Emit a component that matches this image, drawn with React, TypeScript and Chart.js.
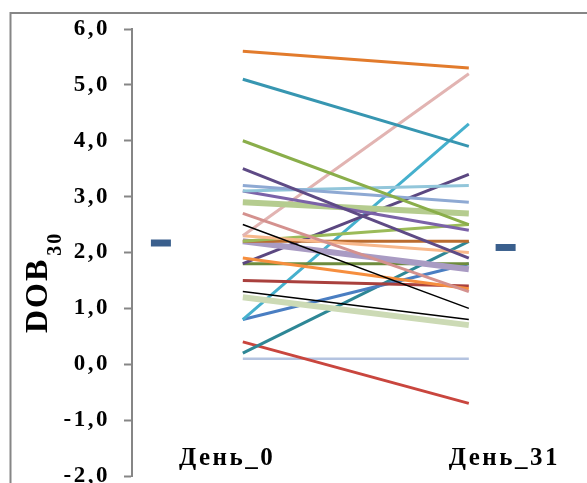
import React, { useEffect, useRef } from 'react';
import { Chart, registerables } from 'chart.js';

Chart.register(...registerables);

// ---- data ----
const categories = ['День_0', 'День_31'];
const day0Values = [5.6, 5.1, 4.0, 3.5, 3.2, 3.1, 3.1, 2.9, 2.7, 2.5, 2.3, 2.3, 2.2, 2.2, 2.2, 1.9, 1.8, 1.8, 1.5, 1.3, 1.2, 0.8, 0.8, 0.2, 0.4, 0.1];
const day31Values = [5.3, 3.9, 2.5, 1.9, 2.9, 3.2, 2.4, 2.7, 1.3, 1.0, 5.2, 2.0, 2.5, 2.2, 1.7, 1.35, 3.4, 1.8, 1.4, 0.8, 0.7, 4.3, 1.8, 2.2, -0.7, 0.1];
const meanValues = [2.17, 2.09];
const yTickValues = [-2, -1, 0, 1, 2, 3, 4, 5, 6];

// ---- styles / positions (not data) ----
const lineColors = [
  '#E27B2C', '#3796B1', '#8AAE4A', '#5E4A85', '#8EA9D3', '#92C6DA', '#7B62A8', '#B5CC8F',
  '#D4918E', '#000000', '#E2B4B2', '#F8B88B', '#9BBB59', '#BA6B2E', '#A99BC3', '#F68E3E',
  '#5B4780', '#6E8B3D', '#A9403D', '#000000', '#CCDAB5', '#45B0CD', '#4A7EC2', '#2E8796',
  '#C9463E', '#B4C3E0',
];
const lineWidths = [3, 3, 3, 3, 3, 3, 3, 6, 3, 1.5, 3, 3, 3, 3, 6, 3, 3, 3, 3, 1.5, 6, 3, 3, 3, 3, 2.5];
const X_MIN = 0;
const X_MAX = 10;
const lineX = [2.53, 7.69];
const meanX = [0.66, 8.53];
const labelX = [2.17, 8.5];

const FONT = '"Liberation Serif", "Times New Roman", serif';
const SPACING = '2.5px';

const framePlugin = {
  id: 'frameAndTitle',
  beforeDraw(chart: any) {
    const ctx = chart.ctx;
    ctx.letterSpacing = SPACING;
    ctx.save();
    ctx.strokeStyle = '#868686';
    ctx.lineWidth = 2;
    ctx.beginPath();
    ctx.moveTo(10.5, chart.height);
    ctx.lineTo(10.5, 13);
    ctx.lineTo(chart.width, 13);
    ctx.stroke();
    ctx.restore();
  },
  afterDraw(chart: any) {
    const ctx = chart.ctx;
    ctx.save();
    ctx.letterSpacing = '2px';
    ctx.translate(47, 333);
    ctx.rotate(-Math.PI / 2);
    ctx.fillStyle = '#000';
    ctx.textBaseline = 'alphabetic';
    ctx.textAlign = 'left';
    ctx.font = `bold 32px ${FONT}`;
    ctx.fillText('DOB', 0, 0);
    const w = ctx.measureText('DOB').width;
    ctx.font = `bold 20px ${FONT}`;
    ctx.fillText('30', w + 2, 14);
    ctx.restore();
  },
};

export default function App() {
  const canvasRef = useRef<HTMLCanvasElement | null>(null);

  useEffect(() => {
    if (!canvasRef.current) return;
    const lineSets = day0Values.map((v0, i) => ({
      type: 'scatter' as const,
      data: [
        { x: lineX[0], y: v0 },
        { x: lineX[1], y: day31Values[i] },
      ],
      showLine: true,
      borderColor: lineColors[i],
      backgroundColor: lineColors[i],
      borderWidth: lineWidths[i],
      pointRadius: 0,
      fill: false,
    }));
    const meanSet = {
      type: 'scatter' as const,
      data: meanX.map((x, i) => ({ x, y: meanValues[i] })),
      showLine: false,
      pointStyle: 'line' as const,
      pointRadius: 10,
      pointBorderWidth: 7,
      borderWidth: 7,
      borderColor: '#3A5F8D',
      backgroundColor: '#3A5F8D',
      pointBorderColor: '#3A5F8D',
    };

    const chart = new Chart(canvasRef.current, {
      type: 'scatter',
      data: { datasets: [meanSet, ...lineSets] as any },
      options: {
        responsive: false,
        maintainAspectRatio: false,
        animation: false,
        layout: { padding: { left: 0, top: 29, right: 0, bottom: 8 } },
        plugins: { legend: { display: false }, tooltip: { enabled: false } },
        scales: {
          x: {
            type: 'linear',
            min: X_MIN,
            max: X_MAX,
            position: { y: -1.42 } as any,
            grid: { display: false, drawTicks: false },
            border: { display: false },
            afterBuildTicks: (scale: any) => {
              scale.ticks = labelX.map((v) => ({ value: v }));
            },
            afterFit: (scale: any) => {
              scale.height = 0;
              scale.paddingLeft = 0;
              scale.paddingRight = 0;
              scale.paddingTop = 0;
              scale.paddingBottom = 0;
            },
            ticks: {
              autoSkip: false,
              maxRotation: 0,
              padding: 0,
              color: '#000',
              font: { family: FONT, size: 25, weight: 'bold' },
              callback: (_v: any, idx: number) => categories[idx],
            },
          },
          y: {
            type: 'linear',
            min: -2,
            max: 6,
            afterFit: (scale: any) => {
              scale.width = 132;
              scale.paddingTop = 0;
              scale.paddingBottom = 0;
            },
            afterBuildTicks: (scale: any) => {
              scale.ticks = yTickValues.map((v) => ({ value: v }));
            },
            border: { display: true, color: '#868686', width: 2 },
            grid: {
              display: true,
              drawOnChartArea: false,
              drawTicks: true,
              tickLength: 8,
              tickColor: '#868686',
              tickWidth: 2,
            },
            ticks: {
              padding: 14,
              color: '#000',
              font: { family: FONT, size: 23, weight: 'bold' },
              callback: (v: any) => Number(v).toFixed(1).replace('.', ','),
            },
          },
        },
      },
      plugins: [framePlugin],
    });
    return () => chart.destroy();
  }, []);

  return (
    <div style={{ position: 'fixed', left: 0, top: 0, width: 587, height: 483, background: '#fff', overflow: 'hidden' }}>
      <canvas ref={canvasRef} width={587} height={493} style={{ display: 'block' }} />
    </div>
  );
}
